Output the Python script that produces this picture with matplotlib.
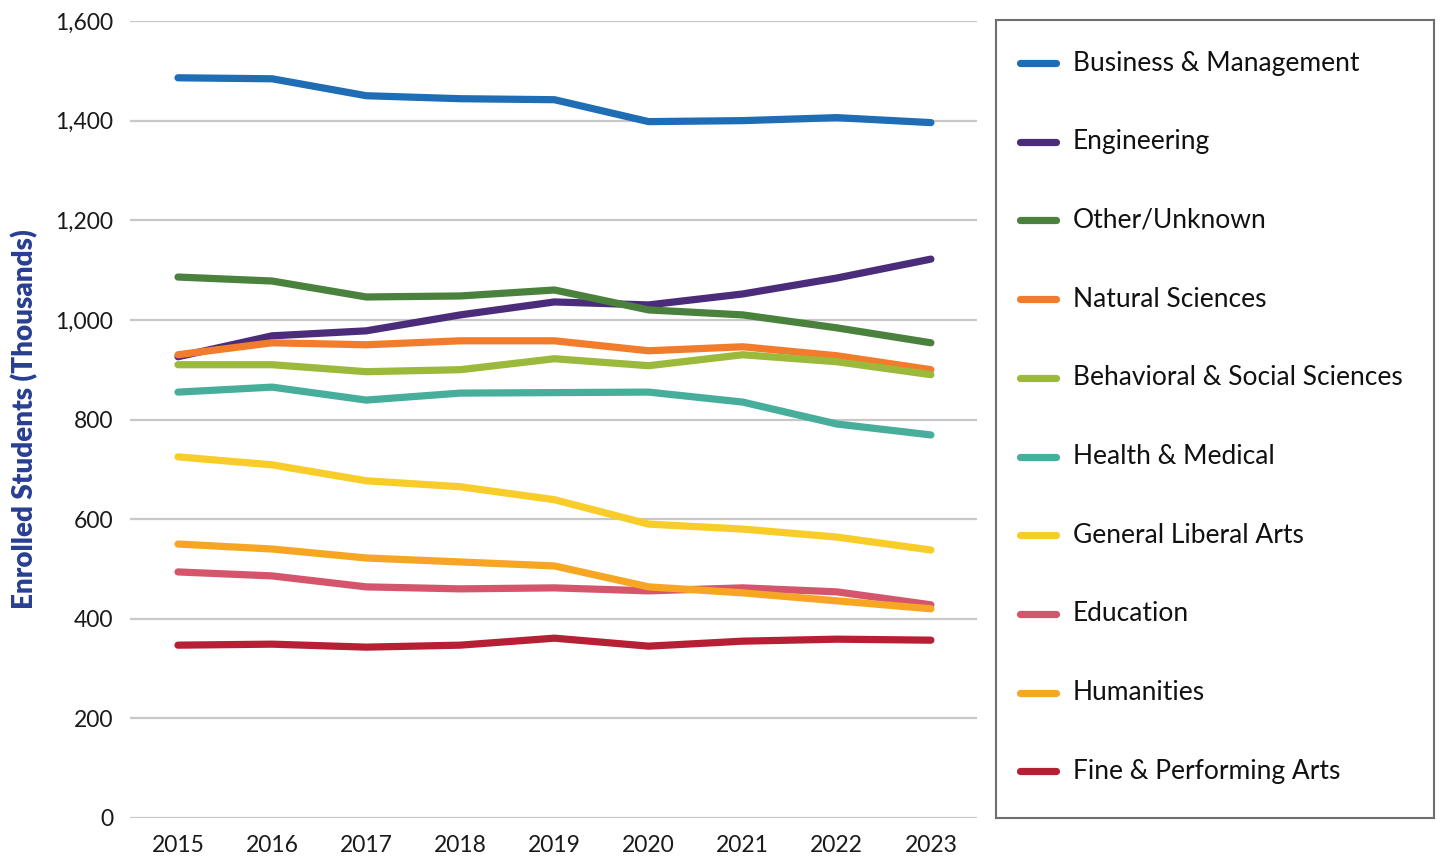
import matplotlib
matplotlib.use("Agg")
import matplotlib.pyplot as plt
from matplotlib.ticker import FuncFormatter

plt.rcParams['font.family'] = ['Lato', 'DejaVu Sans']

years = [2015, 2016, 2017, 2018, 2019, 2020, 2021, 2022, 2023]

fields = [
    "Business & Management",
    "Engineering",
    "Other/Unknown",
    "Natural Sciences",
    "Behavioral & Social Sciences",
    "Health & Medical",
    "General Liberal Arts",
    "Education",
    "Humanities",
    "Fine & Performing Arts",
]

business = [1486, 1484, 1450, 1444, 1442, 1398, 1400, 1406, 1396]
engineering = [926, 968, 978, 1010, 1036, 1030, 1052, 1084, 1122]
other = [1086, 1078, 1046, 1048, 1060, 1020, 1010, 984, 954]
natural = [930, 954, 950, 958, 958, 938, 946, 928, 900]
behavioral = [910, 910, 896, 900, 922, 908, 930, 916, 890]
health = [855, 865, 839, 853, 854, 855, 835, 791, 769]
liberal_arts = [725, 709, 677, 665, 639, 590, 580, 564, 538]
education = [494, 486, 464, 460, 462, 456, 462, 454, 428]
humanities = [550, 540, 522, 514, 506, 464, 452, 436, 420]
fine_arts = [347, 349, 343, 347, 361, 345, 355, 359, 357]

series = [business, engineering, other, natural, behavioral,
          health, liberal_arts, education, humanities, fine_arts]

colors = ["#1f6db5", "#4b2c7b", "#4a813d", "#f27c2c", "#9bb93a",
          "#48ae9c", "#f8cd2a", "#d5566c", "#f6a623", "#b71f34"]

fig = plt.figure(figsize=(14.4, 8.56), dpi=100)
ax = fig.add_axes([130 / 1440, 38 / 856, 847 / 1440, 797 / 856])

for vals, col in zip(series, colors):
    ax.plot(years, vals, color=col, linewidth=5.2, solid_capstyle='round',
            solid_joinstyle='round')

ax.set_xlim(2014.49, 2023.49)
ax.set_ylim(0, 1600)
ax.set_yticks(range(0, 1601, 200))
ax.set_xticks(years)
ax.yaxis.set_major_formatter(FuncFormatter(lambda v, p: f"{int(v):,}"))
ax.grid(axis='y', color='#c8c8c8', linewidth=1.6)
ax.set_axisbelow(True)
for s in ax.spines.values():
    s.set_visible(False)
ax.tick_params(length=0, labelsize=16.5, colors='#1a1a1a')
ax.tick_params(axis='y', pad=12)
ax.tick_params(axis='x', pad=12)
ax.set_ylabel("Enrolled Students (Thousands)", fontsize=20, fontweight='heavy',
              color='#283f92')
ax.yaxis.set_label_coords(-0.108, 0.5)

# legend panel on the right
leg = fig.add_axes([996 / 1440, 38 / 856, 438 / 1440, 798 / 856])
leg.set_xlim(0, 1)
leg.set_ylim(0, 1)
leg.set_xticks([])
leg.set_yticks([])
for s in leg.spines.values():
    s.set_color('#6e6e6e')
    s.set_linewidth(1.5)

top, step = 0.946, 0.0986
for i, (name, col) in enumerate(zip(fields, colors)):
    y = top - i * step
    leg.plot([0.055, 0.137], [y, y], color=col, linewidth=5.2,
             solid_capstyle='round')
    leg.text(0.175, y, name, fontsize=19, va='center', ha='left',
             color='#111111')

fig.savefig("out.png", dpi=100)
